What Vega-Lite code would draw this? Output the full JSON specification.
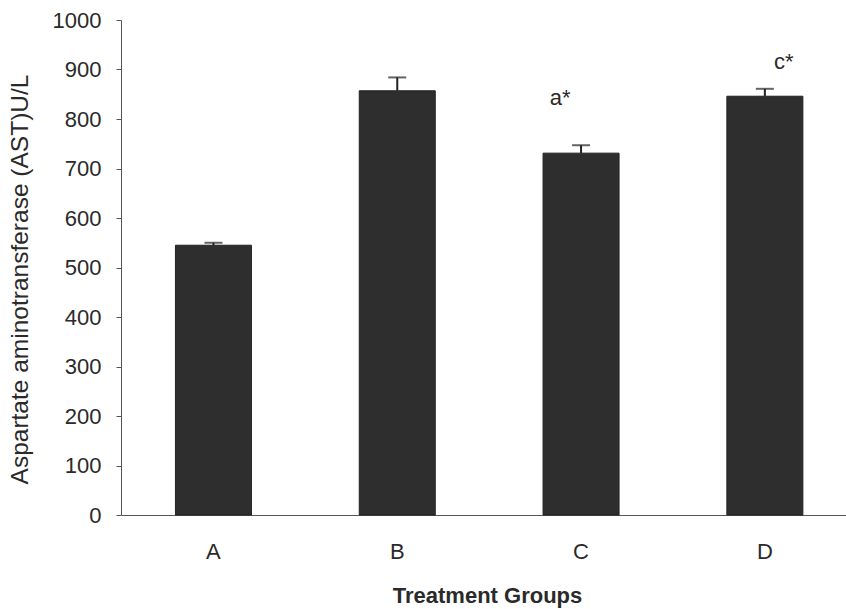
{
  "$schema": "https://vega.github.io/schema/vega-lite/v6.json",
  "width": 725,
  "height": 495,
  "autosize": {"type": "none"},
  "padding": {"left": 121, "top": 20, "right": 0, "bottom": 94},
  "background": "white",
  "config": {
    "view": {"stroke": null},
    "font": "Liberation Sans",
    "axis": {"grid": false, "domainColor": "#555555", "tickColor": "#555555", "labelColor": "#2a2a2a", "titleColor": "#2a2a2a", "labelFont": "Liberation Sans", "titleFont": "Liberation Sans"}
  },
  "data": {
    "values": [
      {"group": "A", "value": 545, "upper": 550},
      {"group": "B", "value": 857, "upper": 884},
      {"group": "C", "value": 731, "upper": 747},
      {"group": "D", "value": 846, "upper": 861}
    ]
  },
  "encoding": {
    "x": {
      "field": "group",
      "type": "nominal",
      "sort": ["A", "B", "C", "D"],
      "scale": {"paddingInner": 0.5865, "paddingOuter": 0.2655, "align": 0.558},
      "axis": {
        "title": "Treatment Groups",
        "titleFontSize": 22,
        "titleFontWeight": "bold",
        "titleBaseline": "middle",
        "titleY": 80,
        "titleX": 366,
        "labelAngle": 0,
        "labelFontSize": 22,
        "labelPadding": 26,
        "ticks": false,
        "tickSize": 0,
        "domainWidth": 1
      }
    }
  },
  "layer": [
    {
      "mark": {"type": "bar", "color": "#2e2e2e", "stroke": "#222222", "strokeWidth": 1},
      "encoding": {
        "y": {
          "field": "value",
          "type": "quantitative",
          "scale": {"domain": [0, 1000], "nice": false},
          "axis": {
            "title": "Aspartate aminotransferase (AST)U/L",
            "titleFontSize": 24.5,
            "titleFontWeight": "normal",
            "titleBaseline": "middle",
            "titleX": -101,
            "titleY": 259,
            "titleAngle": -90,
            "values": [0, 100, 200, 300, 400, 500, 600, 700, 800, 900, 1000],
            "format": "d",
            "labelFontSize": 22,
            "labelPadding": 15,
            "tickSize": 5,
            "domainWidth": 1
          }
        }
      }
    },
    {
      "mark": {"type": "rule", "color": "#222222", "strokeWidth": 2},
      "encoding": {
        "y": {"field": "value", "type": "quantitative"},
        "y2": {"field": "upper"}
      }
    },
    {
      "mark": {"type": "tick", "color": "#222222", "thickness": 2, "size": 18, "orient": "horizontal"},
      "encoding": {
        "y": {"field": "upper", "type": "quantitative"}
      }
    },
    {
      "transform": [{"filter": "datum.group === 'C'"}],
      "mark": {"type": "text", "text": "a*", "fontSize": 22, "color": "#2a2a2a", "baseline": "middle", "dx": -21},
      "encoding": {
        "y": {"datum": 843, "type": "quantitative"}
      }
    },
    {
      "transform": [{"filter": "datum.group === 'D'"}],
      "mark": {"type": "text", "text": "c*", "fontSize": 22, "color": "#2a2a2a", "baseline": "middle", "dx": 19},
      "encoding": {
        "y": {"datum": 915, "type": "quantitative"}
      }
    }
  ]
}
